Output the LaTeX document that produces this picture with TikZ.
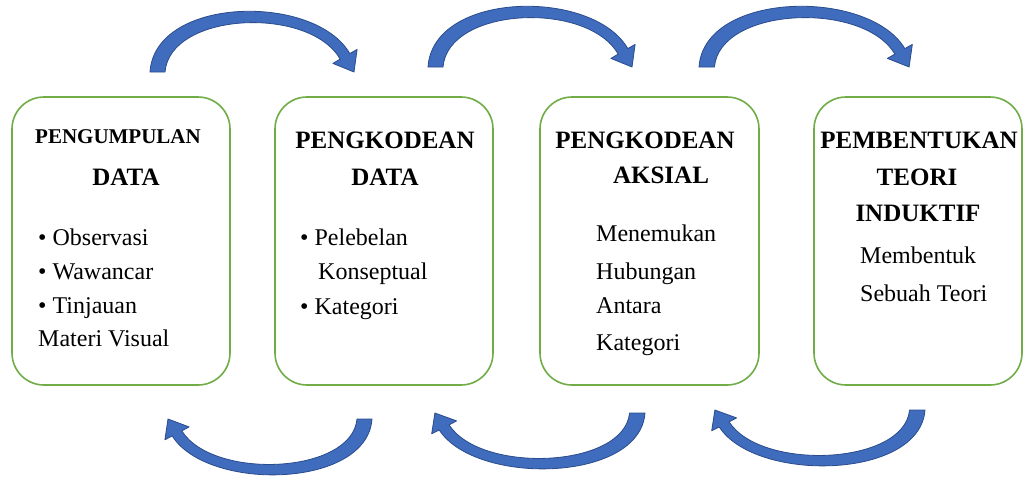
\documentclass[tikz,border=0pt]{standalone}
\usepackage{fontspec}
\setmainfont{Liberation Serif}
\definecolor{boxgreen}{RGB}{112,173,71}
\definecolor{arrowfillc}{RGB}{64,108,190}
\definecolor{arrowedge}{RGB}{42,76,140}
\tikzset{
  stagebox/.style={draw=boxgreen, line width=1.6pt, rounded corners=32pt, fill=white,
    minimum height=288pt, inner sep=0pt, outer sep=0pt},
  ttl/.style={font=\fontsize{25}{29}\selectfont\bfseries, inner sep=0pt, anchor=base},
  ttlsmall/.style={font=\fontsize{21}{25}\selectfont\bfseries, inner sep=0pt, anchor=base},
  bodytxt/.style={font=\fontsize{24}{28}\selectfont, inner sep=0pt, anchor=base west},
  arrowband/.style={fill=arrowfillc, draw=arrowedge, line width=0.8pt, line join=round},
  curvarrow/.pic={
    \path[arrowband] (0,0) .. controls (5,-76) and (164.8,-79) .. (199.8,-18.4)
      -- (207.1,-22.6) -- (204,0) -- (182.9,-8.6) -- (190.2,-12.9)
      .. controls (159.2,-66.6) and (20,-60) .. (15,0) -- cycle;
  }
}
\begin{document}
\begin{tikzpicture}[x=1pt,y=-1pt]
\useasboundingbox (0,0) rectangle (1025,477);

% boxes
\node[stagebox, minimum width=218pt] (b1) at (121,241) {};
\node[stagebox, minimum width=218pt] (b2) at (384,241) {};
\node[stagebox, minimum width=219pt] (b3) at (649.5,241) {};
\node[stagebox, minimum width=208pt] (b4) at (918,241) {};

% box 1 text
\node[ttlsmall] (t1a) at (118,143) {PENGUMPULAN};
\node[ttl] (t1b) at (126,185) {DATA};
\node[bodytxt] (t1c) at (38,245) {\textbullet\ Observasi};
\node[bodytxt] (t1d) at (38,279) {\textbullet\ Wawancar};
\node[bodytxt] (t1e) at (38,313) {\textbullet\ Tinjauan};
\node[bodytxt] (t1f) at (38,346) {Materi Visual};

% box 2 text
\node[ttl] (t2a) at (385,148) {PENGKODEAN};
\node[ttl] (t2b) at (385,185) {DATA};
\node[bodytxt] (t2c) at (300,245) {\textbullet\ Pelebelan};
\node[bodytxt] (t2d) at (318,279) {Konseptual};
\node[bodytxt] (t2e) at (300,314) {\textbullet\ Kategori};

% box 3 text
\node[ttl] (t3a) at (645,148) {PENGKODEAN};
\node[ttl] (t3b) at (661,183) {AKSIAL};
\node[bodytxt] (t3c) at (596,241) {Menemukan};
\node[bodytxt] (t3d) at (596,279) {Hubungan};
\node[bodytxt] (t3e) at (596,313) {Antara};
\node[bodytxt] (t3f) at (596,350) {Kategori};

% box 4 text
\node[ttl] (t4a) at (919,148) {PEMBENTUKAN};
\node[ttl] (t4b) at (917,185) {TEORI};
\node[ttl] (t4c) at (918,221) {INDUKTIF};
\node[bodytxt] (t4d) at (860,263) {Membentuk};
\node[bodytxt] (t4e) at (860,301) {Sebuah Teori};

% top curved arrows
\pic at (150,72) {curvarrow};
\pic at (428,67) {curvarrow};
\pic[xscale=1.03] at (699,67) {curvarrow};
% bottom curved arrows
\pic[rotate=180, xscale=1.0, yscale=0.92] at (372,419) {curvarrow};
\pic[rotate=180, xscale=1.03, yscale=0.92] at (645,413) {curvarrow};
\pic[rotate=180, xscale=1.03, yscale=0.92] at (925,410) {curvarrow};
\end{tikzpicture}
\end{document}
